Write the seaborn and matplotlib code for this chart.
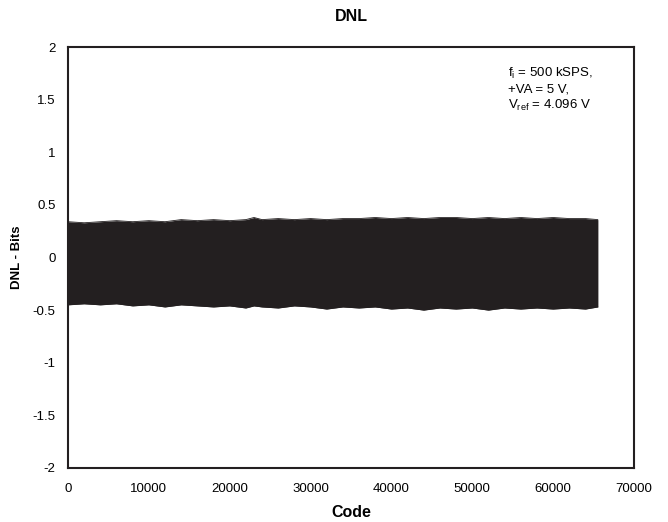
import matplotlib
matplotlib.use("Agg")
import matplotlib.pyplot as plt
import seaborn as sns
import pandas as pd

# envelope of the DNL band (code -> max / min DNL)
codes = [0, 2000, 4000, 6000, 8000, 10000, 12000, 14000, 16000, 18000,
         20000, 22000, 23000, 24000, 26000, 28000, 30000, 32000, 34000,
         36000, 38000, 40000, 42000, 44000, 46000, 48000, 50000, 52000,
         54000, 56000, 58000, 60000, 62000, 64000, 65535]
dnl_max = [0.34, 0.33, 0.34, 0.35, 0.34, 0.35, 0.34, 0.36, 0.35, 0.36,
           0.35, 0.36, 0.38, 0.36, 0.37, 0.36, 0.37, 0.36, 0.37,
           0.37, 0.38, 0.37, 0.38, 0.37, 0.38, 0.38, 0.37, 0.38,
           0.37, 0.38, 0.37, 0.38, 0.37, 0.37, 0.36]
dnl_min = [-0.45, -0.44, -0.45, -0.44, -0.46, -0.45, -0.47, -0.45, -0.46, -0.47,
           -0.46, -0.48, -0.46, -0.47, -0.48, -0.46, -0.47, -0.49, -0.47,
           -0.48, -0.47, -0.49, -0.48, -0.50, -0.48, -0.49, -0.48, -0.50,
           -0.48, -0.49, -0.48, -0.49, -0.48, -0.49, -0.47]

x_ticks = [0, 10000, 20000, 30000, 40000, 50000, 60000, 70000]
y_ticks = [-2, -1.5, -1, -0.5, 0, 0.5, 1, 1.5, 2]
y_labels = ["-2", "-1.5", "-1", "-0.5", "0", "0.5", "1", "1.5", "2"]

sns.set_style("white")
plt.rcParams["font.family"] = ["Liberation Sans", "DejaVu Sans"]
plt.rcParams["mathtext.fontset"] = "custom"
plt.rcParams["mathtext.rm"] = "Liberation Sans"

band = "#231f20"
df = pd.DataFrame({"code": codes, "max": dnl_max, "min": dnl_min})

fig = plt.figure(figsize=(6.68, 5.22), dpi=100)
ax = fig.add_axes([68 / 668, 1 - 468 / 522, 566 / 668, 421 / 522])

ax.fill_between(df["code"], df["min"], df["max"], color=band, linewidth=0)
sns.lineplot(data=df, x="code", y="max", color=band, linewidth=0.6, ax=ax)
sns.lineplot(data=df, x="code", y="min", color=band, linewidth=0.6, ax=ax)

ax.set_xlim(0, 70000)
ax.set_ylim(-2, 2)
ax.set_xticks(x_ticks)
ax.set_xticklabels([str(t) for t in x_ticks])
ax.set_yticks(y_ticks)
ax.set_yticklabels(y_labels)
ax.tick_params(length=0, labelsize=9.5, colors="black")
ax.tick_params(axis="x", pad=11)
ax.tick_params(axis="y", pad=9)

for s in ax.spines.values():
    s.set_color(band)
    s.set_linewidth(1.5)

ax.set_xlabel("Code", fontsize=11.5, fontweight="bold", color="black", labelpad=7)
ax.set_ylabel("DNL - Bits", fontsize=9.5, fontweight="bold", color="black", labelpad=7)
ax.set_title("DNL", fontsize=11.5, fontweight="bold", color="black", pad=19)

ax.text(0.778, 0.955,
        "f$_\\mathrm{i}$ = 500 kSPS,\n+VA = 5 V,\nV$_\\mathrm{ref}$ = 4.096 V",
        transform=ax.transAxes, ha="left", va="top", fontsize=9.5,
        color="black", linespacing=1.25)

plt.savefig("out.png", dpi=100)
plt.close()
